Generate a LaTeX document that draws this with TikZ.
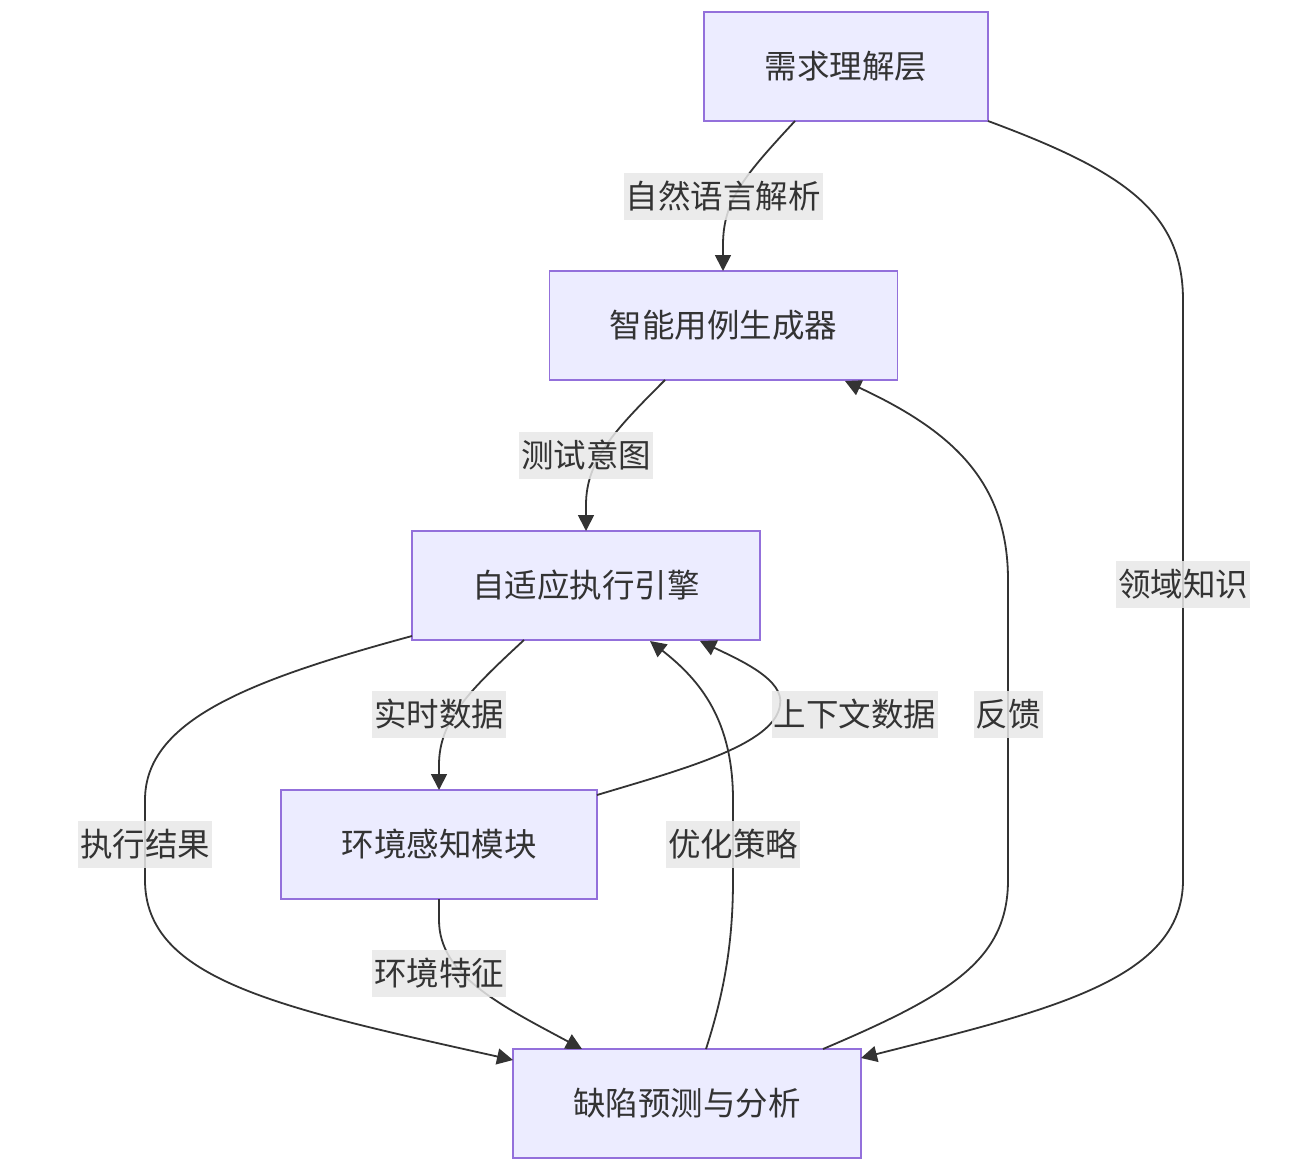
\documentclass[tikz,border=0pt]{standalone}
\usepackage{fontspec}
\setmainfont{Noto Sans CJK SC}
\usetikzlibrary{arrows.meta}
\definecolor{nodefill}{HTML}{ECECFF}
\definecolor{nodeline}{HTML}{9370DB}
\definecolor{edgecol}{HTML}{333333}
\definecolor{labfill}{HTML}{E8E8E8}
\tikzset{
  box/.style={draw=nodeline, fill=nodefill, line width=1.8pt, minimum width=#1, minimum height=109pt, inner sep=0pt, text=edgecol, font=\fontsize{32.5}{38}\selectfont},
  box/.default=348pt,
  lab/.style={fill=labfill, fill opacity=0.85, text opacity=1, text=edgecol, inner xsep=2pt, inner ysep=0pt, minimum height=47pt, font=\fontsize{32.5}{38}\selectfont},
  edge/.style={draw=edgecol, line width=1.8pt, -{Triangle[length=16pt,width=16pt]}},
}
\begin{document}
\begin{tikzpicture}[x=1pt,y=-1pt]
\useasboundingbox (0,0) rectangle (1306,1167);
\node[box=284pt] (req) at (846,66.5) {需求理解层};
\node[box] (gen) at (723.5,325.5) {智能用例生成器};
\node[box] (exe) at (586,585.5) {自适应执行引擎};
\node[box=316pt] (env) at (439,844.5) {环境感知模块};
\node[box] (def) at (687,1103.5) {缺陷预测与分析};

\coordinate (r1) at (795,121);
\coordinate (g1) at (723,271);
\draw[edge] (r1) .. controls (745,175) and (723,200) .. (723,245) -- (g1);

\coordinate (g2) at (665,380);
\coordinate (e1) at (586,531);
\draw[edge] (g2) .. controls (615,430) and (586,460) .. (586,505) -- (e1);

\coordinate (e2) at (524,640);
\coordinate (v1) at (439,790);
\draw[edge] (e2) .. controls (470,690) and (439,720) .. (439,765) -- (v1);

\coordinate (e3) at (412,636);
\coordinate (d1) at (513,1060);
\draw[edge] (e3) .. controls (250,680) and (145,720) .. (145,800) -- (145,880) .. controls (145,980) and (280,1008) .. (d1);

\coordinate (v2) at (439,899);
\coordinate (d2) at (582,1049);
\draw[edge] (v2) -- (439,920) .. controls (439,975) and (500,1005) .. (d2);

\coordinate (r2) at (988,121);
\coordinate (d3) at (861,1058);
\draw[edge] (r2) .. controls (1120,170) and (1183,210) .. (1183,300) -- (1183,880) .. controls (1183,980) and (1050,1010) .. (d3);

\coordinate (v3) at (597,795);
\coordinate (e4) at (700,641);
\draw[edge] (v3) .. controls (680,770) and (775,745) .. (780,705) .. controls (785,680) and (740,660) .. (e4);

\coordinate (d4) at (706,1049);
\coordinate (e5) at (650,641);
\draw[edge] (d4) .. controls (725,990) and (733,940) .. (733,880) -- (733,800) .. controls (733,720) and (700,680) .. (e5);

\coordinate (d5) at (823,1049);
\coordinate (g3) at (845,381);
\draw[edge] (d5) .. controls (950,995) and (1008,960) .. (1008,880) -- (1008,580) .. controls (1008,480) and (950,430) .. (g3);

\node[lab] (l1) at (723,196) {自然语言解析};
\node[lab] (l2) at (586,455) {测试意图};
\node[lab] (l3) at (439,714) {实时数据};
\node[lab] (l4) at (145,844) {执行结果};
\node[lab] (l5) at (439,973) {环境特征};
\node[lab] (l6) at (1183,584) {领域知识};
\node[lab] (l7) at (855,714) {上下文数据};
\node[lab] (l8) at (733,844) {优化策略};
\node[lab] (l9) at (1008,714) {反馈};
\end{tikzpicture}
\end{document}
